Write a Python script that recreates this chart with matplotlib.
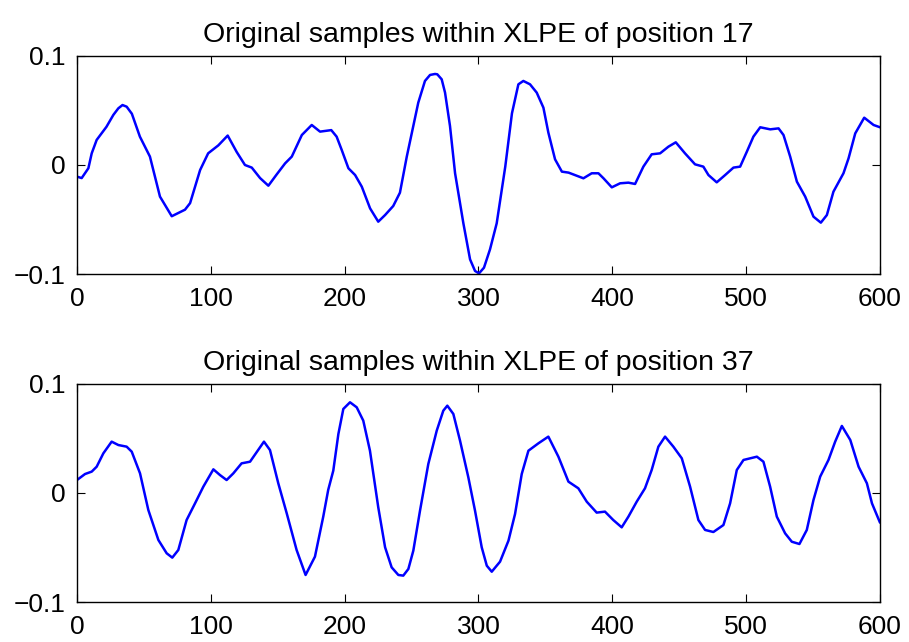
import matplotlib
matplotlib.use("Agg")
import matplotlib.pyplot as plt

plt.rcParams["font.family"] = ["Liberation Sans", "DejaVu Sans"]

# Samples within XLPE at position 17
pos17_x = [0, 3.5, 8.5, 11, 14.7, 22, 27.2, 30.9, 34, 37.1, 41, 47, 54.5, 62,
           70.8, 80.7, 84.5, 92, 98, 105.6, 112.6, 119.3, 125.5, 130.6, 136.8,
           143, 149, 155.5, 160.5, 168, 175.4, 181.6, 190, 194, 197.8, 202.8,
           207.8, 212.8, 219, 225.1, 230.2, 236.3, 241.3, 246.4, 255, 260, 263.8,
           267.5, 269.2, 272.5, 275, 278.7, 282.5, 288.7, 293.7, 297.4, 300.4,
           304.1, 308.6, 313.6, 320, 325, 329.8, 333.5, 338.5, 343.5, 348.5,
           352.2, 357.2, 362.3, 367.3, 372, 378.4, 384.6, 389.6, 393.4, 399.6,
           405.8, 412, 417, 423.2, 429.4, 435.7, 441.9, 447.4, 454.3, 461.8, 468,
           471.8, 478, 484.3, 490.5, 495.5, 500.5, 505.4, 510.5, 518, 524.2,
           527.9, 532.9, 537.9, 544.1, 550.3, 555.8, 560.3, 565.2, 572.7, 576.5,
           581.5, 588.2, 595.2, 600]
pos17_y = [-0.0107, -0.012, -0.003, 0.0107, 0.023, 0.035, 0.046, 0.052, 0.055,
           0.0535, 0.047, 0.026, 0.0077, -0.029, -0.047, -0.041, -0.035, -0.0046,
           0.0107, 0.018, 0.027, 0.012, 0.0, -0.0024, -0.012, -0.019, -0.009,
           0.0015, 0.0077, 0.0275, 0.0367, 0.0306, 0.032, 0.026, 0.0138, -0.003,
           -0.0092, -0.0199, -0.0398, -0.052, -0.0459, -0.0376, -0.0254, 0.0076,
           0.0572, 0.0771, 0.0826, 0.0835, 0.0832, 0.0786, 0.0664, 0.0358,
           -0.0076, -0.0535, -0.0866, -0.0972, -0.0994, -0.0942, -0.0774,
           -0.0535, -0.0015, 0.0474, 0.074, 0.0771, 0.074, 0.0664, 0.0526,
           0.0297, 0.0052, -0.0061, -0.007, -0.0092, -0.0122, -0.0076, -0.0076,
           -0.0122, -0.0205, -0.0168, -0.0162, -0.0174, -0.0015, 0.0098, 0.0107,
           0.0168, 0.0208, 0.0107, 0.0006, -0.0015, -0.0092, -0.0159, -0.0092,
           -0.0024, -0.0015, 0.0122, 0.026, 0.0346, 0.0327, 0.0336, 0.0275,
           0.0076, -0.0153, -0.029, -0.0474, -0.0529, -0.0459, -0.0245, -0.0076,
           0.0061, 0.029, 0.0434, 0.0367, 0.0346]

# Samples within XLPE at position 37
pos37_x = [0, 6, 11, 14.7, 19.7, 25.9, 30.9, 37.1, 40.9, 47.1, 53.3, 60.8, 67,
           71.2, 75.7, 81.9, 88.2, 94.4, 101.9, 106.8, 111.8, 116.8, 123, 129.3,
           139.7, 144.2, 150.4, 156.7, 164.1, 170.8, 177.8, 184, 187.7, 191.5,
           195.3, 199, 204, 209, 213.9, 218.9, 225.1, 230.2, 235.1, 240.1,
           243.8, 247.6, 251.3, 256.3, 262.5, 268.8, 273.7, 276.7, 281.2, 286.2,
           292.4, 297.4, 302.4, 306.2, 309.9, 313.6, 316.1, 322.4, 327.3, 332.3,
           337.3, 344.8, 352.2, 359.7, 367.2, 374.6, 380.9, 388.3, 394.5, 400.7,
           407, 412, 418.2, 424.4, 429.4, 434.4, 439.4, 445.6, 451.9, 458.1,
           464.3, 469.3, 475.5, 483, 488, 493, 498, 508, 512.9, 517.9, 522.9,
           529.1, 534.1, 539.8, 545.3, 550.3, 555.3, 561.5, 566.5, 571.5, 577.8,
           584, 590.2, 594, 600]
pos37_y = [0.0119, 0.0174, 0.0196, 0.0241, 0.0364, 0.0471, 0.044, 0.0425, 0.0379,
           0.018, -0.0156, -0.0431, -0.0553, -0.0593, -0.0523, -0.0248, -0.0095,
           0.0058, 0.0217, 0.0165, 0.0119, 0.018, 0.0272, 0.0287, 0.0471, 0.0394,
           0.0089, -0.0186, -0.0523, -0.0752, -0.0584, -0.0217, 0.0028, 0.0205,
           0.0541, 0.0771, 0.0832, 0.0786, 0.0664, 0.0388, -0.0131, -0.0498,
           -0.0682, -0.0752, -0.0758, -0.0697, -0.0529, -0.0162, 0.0266, 0.0572,
           0.0755, 0.0801, 0.0725, 0.048, 0.0144, -0.0162, -0.0498, -0.0667,
           -0.0722, -0.0667, -0.063, -0.0437, -0.0193, 0.0174, 0.0388, 0.0456,
           0.0517, 0.0333, 0.0104, 0.0043, -0.008, -0.018, -0.0171, -0.0248,
           -0.0315, -0.0217, -0.008, 0.0043, 0.0211, 0.0425, 0.0517, 0.0425,
           0.0318, 0.0058, -0.0248, -0.0339, -0.0358, -0.0294, -0.0095, 0.0211,
           0.0303, 0.0333, 0.0287, 0.0058, -0.0217, -0.037, -0.0447, -0.0468,
           -0.0339, -0.0064, 0.015, 0.0303, 0.0471, 0.0615, 0.0486, 0.0241,
           0.0089, -0.0095, -0.0272]

titles = ["Original samples within XLPE of position 17",
          "Original samples within XLPE of position 37"]
xticks = [0, 100, 200, 300, 400, 500, 600]
yticks = [-0.1, 0, 0.1]
ytick_labels = ["\u22120.1", "0", "0.1"]

fig = plt.figure(figsize=(9.09, 6.42), dpi=100)
ax_top = fig.add_axes([0.0847, 0.5732, 0.8834, 0.3396])
ax_bot = fig.add_axes([0.0847, 0.0623, 0.8834, 0.3396])

for ax, xs, ys, title in [(ax_top, pos17_x, pos17_y, titles[0]),
                          (ax_bot, pos37_x, pos37_y, titles[1])]:
    ax.plot(xs, ys, color=(0, 0, 1), linewidth=1.8,
            solid_joinstyle="round", solid_capstyle="round")
    ax.set_xlim(0, 600)
    ax.set_ylim(-0.1, 0.1)
    ax.set_xticks(xticks)
    ax.set_xticklabels([str(t) for t in xticks])
    ax.set_yticks(yticks)
    ax.set_yticklabels(ytick_labels)
    ax.tick_params(direction="in", top=True, right=True, length=6, width=0.8,
                   labelsize=19)
    ax.tick_params(axis="x", pad=9)
    ax.tick_params(axis="y", pad=8)
    for sp in ax.spines.values():
        sp.set_linewidth(1.0)
    ax.set_title(title, fontsize=20.5, pad=10)

fig.savefig("out.png", dpi=100)
